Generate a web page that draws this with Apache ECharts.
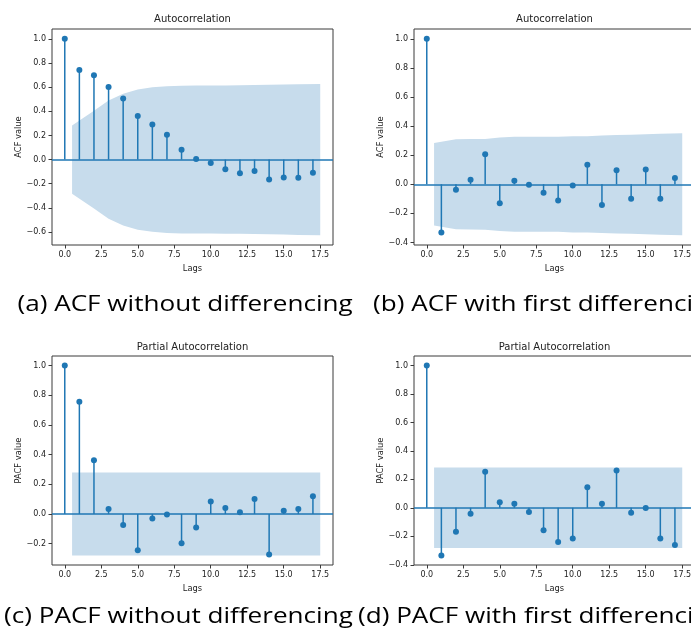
<!DOCTYPE html>
<html>
<head>
<meta charset="utf-8">
<script src="https://cdn.jsdelivr.net/npm/echarts@6/dist/echarts.min.js"></script>
<style>html,body{margin:0;padding:0;background:#fff;}#chart{width:691px;height:637px;}</style>
</head>
<body>
<div id="chart"></div>
<script>
// ---- data ----
const lags = [0, 1, 2, 3, 4, 5, 6, 7, 8, 9, 10, 11, 12, 13, 14, 15, 16, 17];
const acfRaw   = [1.0, 0.741, 0.699, 0.600, 0.506, 0.360, 0.291, 0.206, 0.081, 0.004, -0.029, -0.081, -0.114, -0.095, -0.164, -0.148, -0.150, -0.109];
const acfDiff  = [1.0, -0.331, -0.037, 0.031, 0.206, -0.131, 0.025, -0.003, -0.058, -0.111, -0.008, 0.134, -0.143, 0.097, -0.099, 0.102, -0.099, 0.043];
const pacfRaw  = [1.0, 0.755, 0.362, 0.034, -0.074, -0.245, -0.031, -0.004, -0.198, -0.092, 0.083, 0.040, 0.011, 0.101, -0.274, 0.022, 0.034, 0.119];
const pacfDiff = [1.0, -0.335, -0.168, -0.042, 0.253, 0.040, 0.028, -0.030, -0.157, -0.241, -0.215, 0.145, 0.028, 0.262, -0.035, -0.002, -0.215, -0.262];
// confidence band half-widths for lags 1..17
const confAcfRaw   = [0.283, 0.405, 0.490, 0.545, 0.580, 0.598, 0.607, 0.612, 0.613, 0.613, 0.614, 0.615, 0.617, 0.619, 0.621, 0.624, 0.626];
const confAcfDiff  = [0.283, 0.310, 0.311, 0.312, 0.322, 0.326, 0.326, 0.326, 0.327, 0.331, 0.331, 0.335, 0.339, 0.341, 0.344, 0.347, 0.350];
const confPacfRaw  = [0.280, 0.280, 0.280, 0.280, 0.280, 0.280, 0.280, 0.280, 0.280, 0.280, 0.280, 0.280, 0.280, 0.280, 0.280, 0.280, 0.280];
const confPacfDiff = [0.283, 0.283, 0.283, 0.283, 0.283, 0.283, 0.283, 0.283, 0.283, 0.283, 0.283, 0.283, 0.283, 0.283, 0.283, 0.283, 0.283];
const xTicks = [0, 2.5, 5, 7.5, 10, 12.5, 15, 17.5];
const yTicksA = [-0.6, -0.4, -0.2, 0.0, 0.2, 0.4, 0.6, 0.8, 1.0];
const yTicksB = [-0.4, -0.2, 0.0, 0.2, 0.4, 0.6, 0.8, 1.0];
const yTicksC = [-0.2, 0.0, 0.2, 0.4, 0.6, 0.8, 1.0];
const yTicksD = [-0.4, -0.2, 0.0, 0.2, 0.4, 0.6, 0.8, 1.0];
const titles = ['Autocorrelation', 'Autocorrelation', 'Partial Autocorrelation', 'Partial Autocorrelation'];
const yNames = ['ACF value', 'ACF value', 'PACF value', 'PACF value'];
const xName = 'Lags';
const captions = ['(a) ACF without differencing', '(b) ACF with first differencing',
                  '(c) PACF without differencing', '(d) PACF with first differencing'];

// ---- styling / layout ----
const C0 = '#1f77b4';
const FILL = '#c7dcec';
const FONT = 'DejaVu Sans';
const TXT = '#222';
const SPINE = '#3a3a3a';
const panels = [
  {vals: acfRaw,  conf: confAcfRaw,  yTicks: yTicksA, grid: {left: 52,  top: 29,  width: 281, height: 216}},
  {vals: acfDiff, conf: confAcfDiff, yTicks: yTicksB, grid: {left: 414, top: 29,  width: 281, height: 216}},
  {vals: pacfRaw, conf: confPacfRaw, yTicks: yTicksC, grid: {left: 52,  top: 356, width: 281, height: 209}},
  {vals: pacfDiff,conf: confPacfDiff,yTicks: yTicksD, grid: {left: 414, top: 356, width: 281, height: 209}}
];

const fmt = v => { const s = (Math.abs(v) < 1e-9 ? 0 : v).toFixed(1); return s.replace('-', '\u2212'); };
const padMin = e => e.min - 0.05 * (e.max - e.min);
const padMax = e => e.max + 0.05 * (e.max - e.min);

// band x positions: lags 1..17, first shifted left by 0.5 and last shifted right by 0.5
const bandX = lags.slice(1).map((l, i, arr) => i === 0 ? l - 0.5 : (i === arr.length - 1 ? l + 0.5 : l));

const grids = [], xAxes = [], yAxes = [], series = [];
panels.forEach((p, k) => {
  grids.push(Object.assign({show: true, borderColor: SPINE, borderWidth: 1, backgroundColor: 'transparent',
                            containLabel: false, outerBoundsMode: 'none'}, p.grid));
  xAxes.push({
    type: 'value', gridIndex: k, min: padMin, max: padMax, position: 'bottom',
    name: xName, nameLocation: 'middle', nameGap: 20,
    nameTextStyle: {fontFamily: FONT, fontSize: 8.3, color: TXT},
    axisLine: {show: false, onZero: false}, splitLine: {show: false},
    axisTick: {show: true, length: 3.5, inside: false, customValues: xTicks, lineStyle: {color: SPINE, width: 1}},
    axisLabel: {customValues: xTicks, margin: 6, fontFamily: FONT, fontSize: 8, color: TXT, formatter: fmt}
  });
  yAxes.push({
    type: 'value', gridIndex: k, min: padMin, max: padMax, position: 'left',
    name: yNames[k], nameLocation: 'middle', nameGap: 29, nameRotate: 90,
    nameTextStyle: {fontFamily: FONT, fontSize: 8.3, color: TXT},
    axisLine: {show: false, onZero: false}, splitLine: {show: false},
    axisTick: {show: true, length: 3.5, inside: false, customValues: p.yTicks, lineStyle: {color: SPINE, width: 1}},
    axisLabel: {customValues: p.yTicks, margin: 6, fontFamily: FONT, fontSize: 8, color: TXT, formatter: fmt}
  });
  const upper = bandX.map((x, i) => [x, p.conf[i]]);
  const lower = bandX.map((x, i) => [x, -p.conf[i]]);
  [upper, lower].forEach(d => series.push({
    type: 'line', xAxisIndex: k, yAxisIndex: k, data: d, symbol: 'none', silent: true, z: 1,
    lineStyle: {width: 0, opacity: 0}, areaStyle: {color: FILL, opacity: 1, origin: 0}
  }));
  series.push({
    type: 'custom', xAxisIndex: k, yAxisIndex: k, z: 3, silent: true,
    data: lags.map((l, i) => [l, p.vals[i]]),
    encode: {x: 0, y: 1},
    renderItem: (params, api) => {
      const a = api.coord([api.value(0), 0]);
      const b = api.coord([api.value(0), api.value(1)]);
      return {type: 'line', shape: {x1: a[0], y1: a[1], x2: b[0], y2: b[1]},
              style: {stroke: C0, lineWidth: 1.5}};
    }
  });
  series.push({
    type: 'scatter', xAxisIndex: k, yAxisIndex: k, z: 4, silent: true,
    data: lags.map((l, i) => [l, p.vals[i]]), symbol: 'circle', symbolSize: 6,
    itemStyle: {color: C0, opacity: 1},
    markLine: {silent: true, symbol: ['none', 'none'], label: {show: false}, animation: false,
               lineStyle: {color: C0, width: 1.5, type: 'solid'}, data: [{yAxis: 0}], z: 2}
  });
});

const graphics = [];
const titlePos = [[192.5, 19.5], [554.5, 19.5], [192.5, 347], [554.5, 347]];
titles.forEach((t, k) => graphics.push({type: 'text', x: titlePos[k][0], y: titlePos[k][1], silent: true,
  style: {text: t, fontFamily: FONT, fontSize: 10, fill: TXT, align: 'center', verticalAlign: 'middle'}}));
const capPos = [[17.5, 305], [373, 305], [4, 617], [358, 617]];
captions.forEach((t, k) => graphics.push({type: 'text', x: capPos[k][0], y: capPos[k][1], scaleX: 1.16, silent: true,
  style: {text: t, fontFamily: 'Open Sans', fontSize: 22.5, fill: '#000', align: 'left', verticalAlign: 'middle'}}));

const chart = echarts.init(document.getElementById('chart'), null, {renderer: 'canvas'});
chart.setOption({
  animation: false,
  backgroundColor: '#fff',
  grid: grids, xAxis: xAxes, yAxis: yAxes, series: series, graphic: graphics
});
</script>
</body>
</html>
